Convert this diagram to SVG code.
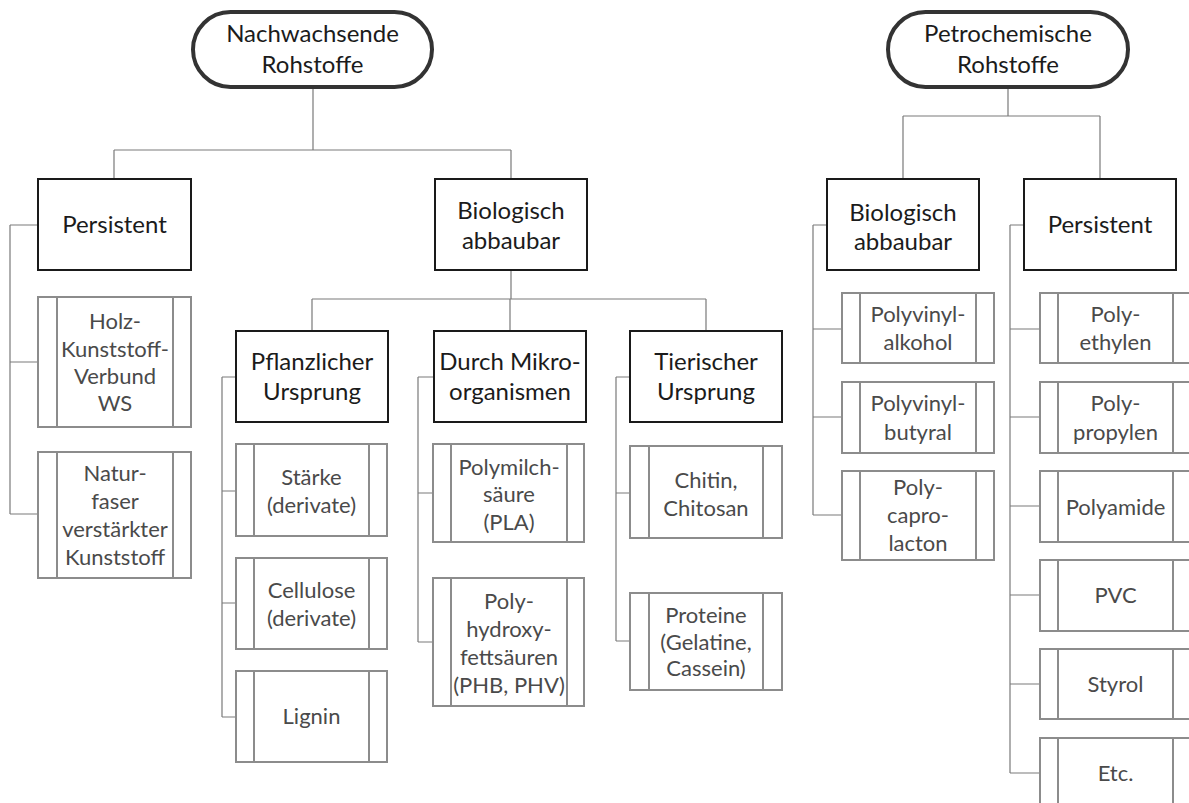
<svg xmlns="http://www.w3.org/2000/svg" width="1189" height="803" viewBox="0 0 1189 803">
  <style>
    .bg { fill: #ffffff; }
    .root { fill: #ffffff; stroke: #333333; stroke-width: 4; }
    .main { fill: #ffffff; stroke: #1a1a1a; stroke-width: 2; }
    .leaf { fill: #ffffff; stroke: #8c8c8c; stroke-width: 2; }
    .inner { stroke: #8c8c8c; stroke-width: 2; }
    .conn { fill: none; stroke: #7a7a7a; stroke-width: 1.2; }
    text { font-family: Lato, "Open Sans", "Liberation Sans", sans-serif; text-anchor: middle; }
    .tm { font-size: 24px; fill: #1b1b1b; }
    .tl { font-size: 22px; fill: #4a4a4a; }
  </style>
  <rect class="bg" x="0" y="0" width="1189" height="803"/>

  <!-- connector lines -->
  <g id="connectors" class="conn">
    <!-- renewable tree -->
    <path d="M313 87 V150 M114 150 H511 M114 150 V179 M511 150 V179"/>
    <path d="M511 270 V299 M312 299 H706 M312 299 V331 M510 299 V331 M706 299 V331"/>
    <path d="M10 225 V514 M10 225 H38 M10 362 H38 M10 514 H38"/>
    <path d="M222 377 V717 M222 377 H236 M222 491 H236 M222 603 H236 M222 717 H236"/>
    <path d="M418 377 V642 M418 377 H434 M418 493 H433 M418 642 H433"/>
    <path d="M616 377 V641 M616 377 H630 M616 493 H630 M616 641 H630"/>
    <!-- petrochemical tree -->
    <path d="M1008 87 V116 M903 116 H1100 M903 116 V179 M1100 116 V179"/>
    <path d="M813 225 V515 M813 225 H827 M813 329 H842 M813 417 H842 M813 515 H842"/>
    <path d="M1010 225 V773 M1010 225 H1024 M1010 329 H1040 M1010 417 H1040 M1010 506 H1040 M1010 595 H1040 M1010 684 H1040 M1010 773 H1040"/>
  </g>

  <!-- roots -->
  <g id="root-nachwachsend">
    <rect class="root" x="193" y="12" width="239" height="75" rx="37.5"/>
    <text class="tm" x="312.5" y="42">Nachwachsende</text>
    <text class="tm" x="312.5" y="73">Rohstoffe</text>
  </g>
  <g id="root-petrochemisch">
    <rect class="root" x="888" y="12" width="240" height="75" rx="37.5"/>
    <text class="tm" x="1008" y="42">Petrochemische</text>
    <text class="tm" x="1008" y="73">Rohstoffe</text>
  </g>

  <!-- category boxes -->
  <g id="persistent-nr">
    <rect class="main" x="38" y="179" width="153" height="91"/>
    <text class="tm" x="114.5" y="233">Persistent</text>
  </g>
  <g id="bio-nr">
    <rect class="main" x="435" y="179" width="152" height="91"/>
    <text class="tm" x="511" y="219">Biologisch</text>
    <text class="tm" x="511" y="249">abbaubar</text>
  </g>
  <g id="pflanzlich">
    <rect class="main" x="236" y="331" width="152" height="91"/>
    <text class="tm" x="312" y="370">Pflanzlicher</text>
    <text class="tm" x="312" y="400">Ursprung</text>
  </g>
  <g id="mikro">
    <rect class="main" x="434" y="331" width="152" height="91"/>
    <text class="tm" x="510" y="370">Durch Mikro-</text>
    <text class="tm" x="510" y="400">organismen</text>
  </g>
  <g id="tierisch">
    <rect class="main" x="630" y="331" width="152" height="91"/>
    <text class="tm" x="706" y="370">Tierischer</text>
    <text class="tm" x="706" y="400">Ursprung</text>
  </g>
  <g id="bio-pc">
    <rect class="main" x="827" y="179" width="152" height="91"/>
    <text class="tm" x="903" y="221">Biologisch</text>
    <text class="tm" x="903" y="250">abbaubar</text>
  </g>
  <g id="persistent-pc">
    <rect class="main" x="1024" y="179" width="152" height="91"/>
    <text class="tm" x="1100" y="233">Persistent</text>
  </g>

  <!-- leaf boxes (predefined-process style) -->
  <g id="holz">
    <rect class="leaf" x="38" y="297" width="153" height="130"/>
    <path class="inner" d="M57 297 V427 M173 297 V427"/>
    <text class="tl" x="115" y="329">Holz-</text>
    <text class="tl" x="115" y="357">Kunststoff-</text>
    <text class="tl" x="115" y="384">Verbund</text>
    <text class="tl" x="115" y="411">WS</text>
  </g>
  <g id="naturfaser">
    <rect class="leaf" x="38" y="452" width="153" height="126"/>
    <path class="inner" d="M57 452 V578 M173 452 V578"/>
    <text class="tl" x="115" y="481">Natur-</text>
    <text class="tl" x="115" y="509">faser</text>
    <text class="tl" x="115" y="537">verstärkter</text>
    <text class="tl" x="115" y="565">Kunststoff</text>
  </g>

  <g id="staerke">
    <rect class="leaf" x="236" y="444" width="151" height="92"/>
    <path class="inner" d="M254 444 V536 M369 444 V536"/>
    <text class="tl" x="311.5" y="485">Stärke</text>
    <text class="tl" x="311.5" y="513">(derivate)</text>
  </g>
  <g id="cellulose">
    <rect class="leaf" x="236" y="558" width="151" height="91"/>
    <path class="inner" d="M254 558 V649 M369 558 V649"/>
    <text class="tl" x="311.5" y="598">Cellulose</text>
    <text class="tl" x="311.5" y="626">(derivate)</text>
  </g>
  <g id="lignin">
    <rect class="leaf" x="236" y="671" width="151" height="91"/>
    <path class="inner" d="M254 671 V762 M369 671 V762"/>
    <text class="tl" x="311.5" y="724">Lignin</text>
  </g>

  <g id="pla">
    <rect class="leaf" x="433" y="444" width="151" height="98"/>
    <path class="inner" d="M451 444 V542 M567 444 V542"/>
    <text class="tl" x="509" y="475">Polymilch-</text>
    <text class="tl" x="509" y="502">säure</text>
    <text class="tl" x="509" y="530">(PLA)</text>
  </g>
  <g id="pha">
    <rect class="leaf" x="433" y="578" width="151" height="128"/>
    <path class="inner" d="M451 578 V706 M567 578 V706"/>
    <text class="tl" x="509" y="609">Poly-</text>
    <text class="tl" x="509" y="637">hydroxy-</text>
    <text class="tl" x="509" y="665">fettsäuren</text>
    <text class="tl" x="509" y="693">(PHB, PHV)</text>
  </g>

  <g id="chitin">
    <rect class="leaf" x="630" y="446" width="152" height="92"/>
    <path class="inner" d="M649 446 V538 M763 446 V538"/>
    <text class="tl" x="706" y="488">Chitin,</text>
    <text class="tl" x="706" y="516">Chitosan</text>
  </g>
  <g id="proteine">
    <rect class="leaf" x="630" y="593" width="152" height="97"/>
    <path class="inner" d="M649 593 V690 M763 593 V690"/>
    <text class="tl" x="706" y="623">Proteine</text>
    <text class="tl" x="706" y="650">(Gelatine,</text>
    <text class="tl" x="706" y="676">Cassein)</text>
  </g>

  <g id="pvoh">
    <rect class="leaf" x="842" y="293" width="152" height="70"/>
    <path class="inner" d="M860 293 V363 M976 293 V363"/>
    <text class="tl" x="918" y="322">Polyvinyl-</text>
    <text class="tl" x="918" y="350">alkohol</text>
  </g>
  <g id="pvb">
    <rect class="leaf" x="842" y="382" width="152" height="71"/>
    <path class="inner" d="M860 382 V453 M976 382 V453"/>
    <text class="tl" x="918" y="411">Polyvinyl-</text>
    <text class="tl" x="918" y="440">butyral</text>
  </g>
  <g id="pcl">
    <rect class="leaf" x="842" y="471" width="152" height="89"/>
    <path class="inner" d="M860 471 V560 M976 471 V560"/>
    <text class="tl" x="918" y="495">Poly-</text>
    <text class="tl" x="918" y="523">capro-</text>
    <text class="tl" x="918" y="551">lacton</text>
  </g>

  <g id="pe">
    <rect class="leaf" x="1040" y="293" width="152" height="70"/>
    <path class="inner" d="M1058 293 V363 M1173 293 V363"/>
    <text class="tl" x="1115.5" y="322">Poly-</text>
    <text class="tl" x="1115.5" y="350">ethylen</text>
  </g>
  <g id="pp">
    <rect class="leaf" x="1040" y="382" width="152" height="71"/>
    <path class="inner" d="M1058 382 V453 M1173 382 V453"/>
    <text class="tl" x="1115.5" y="411">Poly-</text>
    <text class="tl" x="1115.5" y="440">propylen</text>
  </g>
  <g id="pa">
    <rect class="leaf" x="1040" y="471" width="152" height="71"/>
    <path class="inner" d="M1058 471 V542 M1173 471 V542"/>
    <text class="tl" x="1115.5" y="515">Polyamide</text>
  </g>
  <g id="pvc">
    <rect class="leaf" x="1040" y="560" width="152" height="71"/>
    <path class="inner" d="M1058 560 V631 M1173 560 V631"/>
    <text class="tl" x="1115.5" y="603">PVC</text>
  </g>
  <g id="styrol">
    <rect class="leaf" x="1040" y="649" width="152" height="70"/>
    <path class="inner" d="M1058 649 V719 M1173 649 V719"/>
    <text class="tl" x="1115.5" y="692">Styrol</text>
  </g>
  <g id="etc">
    <rect class="leaf" x="1040" y="738" width="152" height="75"/>
    <path class="inner" d="M1058 738 V813 M1173 738 V813"/>
    <text class="tl" x="1115.5" y="781">Etc.</text>
  </g>
</svg>
